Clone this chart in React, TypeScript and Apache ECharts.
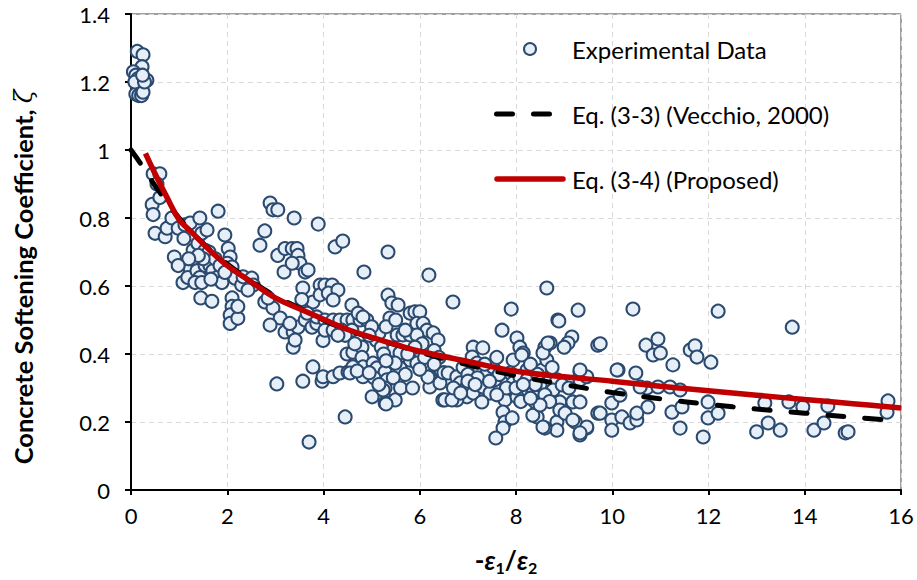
import React, { useEffect, useRef } from "react";
import * as echarts from "echarts";

// ---------- data ----------
const xTicks = [0, 2, 4, 6, 8, 10, 12, 14, 16];
const yTicks = [0, 0.2, 0.4, 0.6, 0.8, 1, 1.2, 1.4];

const legendNames = ["Experimental Data", "Eq. (3-3) (Vecchio, 2000)", "Eq. (3-4) (Proposed)"];

const expNearZero: number[][] = [
  [0.13, 1.29], [0.25, 1.28], [0.23, 1.245], [0.33, 1.205], [0.05, 1.23], [0.1, 1.22], [0.15, 1.21],
  [0.2, 1.2], [0.12, 1.195], [0.18, 1.19], [0.22, 1.18], [0.14, 1.175], [0.2, 1.17], [0.1, 1.165],
  [0.16, 1.16], [0.22, 1.16], [0.25, 1.17], [0.08, 1.2], [0.28, 1.2], [0.24, 1.22],
];

const expGroupA: number[][] = [
  [0.46, 0.93], [0.6, 0.93], [0.54, 0.9], [0.44, 0.84], [0.46, 0.81], [0.6, 0.86], [0.5, 0.755], [0.71, 0.745],
  [0.75, 0.77], [0.85, 0.8], [0.9, 0.685], [0.98, 0.77], [1.12, 0.78], [1.23, 0.785], [1.1, 0.74], [1.43, 0.8],
  [1.81, 0.82], [1.08, 0.61], [1.23, 0.65], [1.18, 0.625], [1.29, 0.705], [1.33, 0.675], [1.37, 0.645],
  [1.39, 0.725], [1.47, 0.755], [1.58, 0.765], [1.54, 0.705], [1.58, 0.685], [1.54, 0.66], [1.43, 0.625],
  [1.33, 0.61], [1.47, 0.61], [1.64, 0.66], [1.7, 0.645], [1.79, 0.625], [1.89, 0.61], [1.45, 0.565],
  [1.68, 0.555], [1.95, 0.75], [2.02, 0.71], [2.06, 0.685], [2.0, 0.667], [2.1, 0.656], [2.16, 0.623],
  [2.3, 0.603], [2.1, 0.565], [2.1, 0.54], [2.06, 0.515], [2.06, 0.49], [2.22, 0.505], [2.22, 0.54],
  [2.33, 0.627], [2.51, 0.623], [2.54, 0.603], [2.43, 0.588], [1.62, 0.7], [1.75, 0.68], [1.85, 0.66],
  [1.5, 0.68], [1.95, 0.64], [1.66, 0.62], [1.4, 0.69], [1.2, 0.68], [0.98, 0.66],
];

const expGroupB: number[][] = [
  [2.89, 0.844], [2.95, 0.824], [3.05, 0.824], [3.39, 0.8], [3.89, 0.782], [2.78, 0.762], [2.68, 0.72],
  [3.05, 0.69], [3.2, 0.71], [3.35, 0.71], [3.45, 0.71], [3.47, 0.69], [3.51, 0.667], [3.62, 0.641],
  [3.68, 0.647], [3.18, 0.641], [3.35, 0.667], [3.57, 0.594], [3.93, 0.603], [2.78, 0.553], [2.95, 0.535],
  [3.1, 0.506], [2.89, 0.485], [3.2, 0.465], [3.37, 0.465], [3.47, 0.479], [3.62, 0.5], [3.76, 0.479],
  [3.86, 0.49], [3.86, 0.509], [3.03, 0.312], [3.57, 0.32], [3.97, 0.32], [3.78, 0.362], [3.37, 0.42],
  [3.7, 0.141], [2.85, 0.565], [3.41, 0.441], [3.78, 0.553], [3.93, 0.574], [3.55, 0.56], [3.66, 0.52],
  [3.3, 0.49], [3.99, 0.44], [3.99, 0.333],
];

const expGroupC: number[][] = [
  [4.24, 0.715], [4.4, 0.732], [5.34, 0.7], [4.84, 0.641], [6.19, 0.632], [6.69, 0.553], [4.03, 0.603],
  [4.18, 0.603], [4.1, 0.579], [4.3, 0.588], [4.2, 0.559], [4.03, 0.5], [4.2, 0.5], [4.34, 0.5], [4.49, 0.5],
  [4.61, 0.5], [4.76, 0.5], [4.9, 0.5], [4.03, 0.47], [4.2, 0.47], [4.38, 0.47], [4.59, 0.47], [4.59, 0.544],
  [4.72, 0.52], [4.82, 0.509], [4.49, 0.4], [4.61, 0.405], [4.8, 0.42], [4.8, 0.39], [4.82, 0.362],
  [4.82, 0.333], [5.03, 0.373], [5.11, 0.359], [5.28, 0.347], [5.32, 0.324], [5.28, 0.3], [5.24, 0.279],
  [5.49, 0.265], [5.28, 0.256], [5.01, 0.274], [4.45, 0.215], [4.2, 0.333], [4.34, 0.344], [4.51, 0.347],
  [4.61, 0.362], [5.34, 0.573], [5.42, 0.55], [5.55, 0.544], [5.38, 0.506], [5.8, 0.52], [5.9, 0.524],
  [6.0, 0.524], [5.94, 0.49], [6.07, 0.49], [6.15, 0.47], [6.28, 0.462], [6.38, 0.441], [5.53, 0.456],
  [5.65, 0.456], [5.8, 0.456], [5.94, 0.456], [5.44, 0.412], [5.59, 0.403], [5.8, 0.382], [5.94, 0.373],
  [5.59, 0.359], [5.49, 0.373], [6.21, 0.362], [6.21, 0.333], [6.21, 0.303], [6.42, 0.315], [6.48, 0.265],
  [6.17, 0.332], [5.3, 0.253], [4.55, 0.344], [4.7, 0.35], [5.24, 0.294], [5.1, 0.44], [5.2, 0.42],
  [5.25, 0.4], [5.3, 0.38], [5.15, 0.46], [5.0, 0.48], [5.05, 0.33], [5.15, 0.31], [4.95, 0.345],
  [4.45, 0.455], [4.3, 0.455], [4.65, 0.43], [4.95, 0.455], [5.3, 0.48], [5.5, 0.5], [5.7, 0.47],
  [6.05, 0.43], [6.3, 0.41], [5.9, 0.42], [5.75, 0.4], [6.1, 0.39], [6.4, 0.39], [6.0, 0.355], [5.7, 0.34],
  [5.45, 0.33], [5.6, 0.3], [5.85, 0.3], [6.3, 0.37], [6.5, 0.345],
];

const expGroupD: number[][] = [
  [6.59, 0.344], [6.77, 0.333], [6.84, 0.315], [6.98, 0.303], [6.98, 0.274], [7.11, 0.285], [7.11, 0.42],
  [7.31, 0.418], [7.09, 0.391], [7.19, 0.373], [7.25, 0.353], [7.4, 0.344], [7.52, 0.362], [7.56, 0.324],
  [7.31, 0.303], [7.46, 0.285], [7.29, 0.259], [7.71, 0.47], [7.9, 0.532], [7.77, 0.265], [7.73, 0.229],
  [7.77, 0.2], [7.73, 0.182], [7.58, 0.153], [8.02, 0.447], [8.08, 0.42], [8.15, 0.403], [7.94, 0.382],
  [7.88, 0.344], [7.94, 0.315], [8.08, 0.333], [8.23, 0.353], [8.23, 0.324], [8.23, 0.294], [8.02, 0.274],
  [8.35, 0.285], [8.5, 0.309], [8.54, 0.353], [8.64, 0.382], [8.6, 0.42], [8.71, 0.432], [8.64, 0.594],
  [8.56, 0.403], [8.71, 0.333], [8.44, 0.215], [8.4, 0.259], [8.87, 0.5], [8.85, 0.324], [8.91, 0.259],
  [8.85, 0.2], [8.85, 0.176], [8.6, 0.182], [8.77, 0.294], [6.52, 0.265], [6.77, 0.265], [6.67, 0.265],
  [7.92, 0.212], [8.35, 0.22], [8.56, 0.185], [8.91, 0.235], [8.12, 0.397], [8.66, 0.432], [8.89, 0.497],
  [8.96, 0.309], [6.9, 0.36], [7.0, 0.34], [7.2, 0.33], [7.35, 0.37], [7.6, 0.39], [7.65, 0.34], [7.8, 0.3],
  [8.0, 0.3], [8.1, 0.26], [8.3, 0.37], [8.45, 0.34], [8.4, 0.31], [8.6, 0.28], [8.7, 0.26], [8.75, 0.36],
  [6.7, 0.3], [6.85, 0.285], [7.0, 0.32], [7.15, 0.31], [7.45, 0.32], [7.6, 0.28], [8.5, 0.25], [8.15, 0.31],
  [8.3, 0.27],
];

const expGroupE: number[][] = [
  [9.16, 0.45], [9.08, 0.432], [9.29, 0.529], [9.18, 0.259], [9.02, 0.226], [9.23, 0.2], [9.47, 0.182],
  [9.33, 0.162], [9.33, 0.347], [9.7, 0.426], [9.7, 0.226], [10.43, 0.532], [12.2, 0.526], [10.7, 0.426],
  [10.95, 0.444], [10.85, 0.397], [11.0, 0.403], [11.62, 0.412], [11.72, 0.424], [11.76, 0.391],
  [12.05, 0.376], [11.26, 0.368], [10.12, 0.353], [10.49, 0.344], [9.33, 0.324], [9.47, 0.333],
  [9.33, 0.259], [9.99, 0.256], [10.16, 0.279], [10.72, 0.3], [10.95, 0.303], [11.2, 0.303], [11.41, 0.294],
  [10.74, 0.244], [11.24, 0.229], [11.45, 0.244], [11.99, 0.259], [11.99, 0.212], [12.2, 0.226],
  [11.89, 0.156], [11.41, 0.182], [9.75, 0.226], [9.99, 0.206], [9.99, 0.176], [10.2, 0.215], [10.37, 0.197],
  [10.51, 0.206], [10.51, 0.226], [9.47, 0.185], [9.33, 0.168], [13.0, 0.171], [13.24, 0.197], [13.17, 0.256],
  [13.49, 0.176], [13.74, 0.479], [10.58, 0.303], [13.67, 0.259], [13.96, 0.244], [14.48, 0.247],
  [14.19, 0.176], [14.4, 0.197], [14.84, 0.168], [14.9, 0.171], [15.73, 0.262], [15.71, 0.229],
  [9.75, 0.43], [9.18, 0.206], [10.1, 0.353], [9.33, 0.353], [9.0, 0.42], [9.1, 0.3],
];

// Eq. (3-3) (Vecchio, 2000)
const vecchioX = [0, 0.2, 0.5, 1, 1.5, 2, 2.5, 3, 3.5, 4, 4.5, 5, 5.5, 6, 7, 8, 9, 10, 11, 12, 13, 14, 15, 16];
const vecchioY = [1.0, 0.96, 0.895, 0.8, 0.725, 0.665, 0.615, 0.57, 0.535, 0.5, 0.47, 0.448, 0.427, 0.405,
  0.368, 0.336, 0.31, 0.287, 0.268, 0.252, 0.238, 0.226, 0.214, 0.203];

// Eq. (3-4) (Proposed)
const proposedX = [0.3, 0.5, 0.75, 1, 1.25, 1.6, 2, 2.5, 3, 3.5, 4, 4.5, 5, 5.5, 6, 7, 8, 9, 10, 11, 12, 13, 14, 15, 16];
const proposedY = [0.99, 0.93, 0.86, 0.795, 0.76, 0.71, 0.66, 0.612, 0.565, 0.533, 0.502, 0.472, 0.449,
  0.428, 0.408, 0.378, 0.349, 0.333, 0.32, 0.305, 0.292, 0.279, 0.266, 0.254, 0.241];

const FONT = "Lato, 'Open Sans', sans-serif";
const MARKER_FILL = "#e6eef8";
const MARKER_STROKE = "#2b4a6f";
const RED = "#c00000";
const DASH = [16, 21];

export default function App() {
  const ref = useRef<HTMLDivElement>(null);

  useEffect(() => {
    document.body.style.margin = "0";
    const chart = echarts.init(ref.current!, undefined, { renderer: "svg" });
    const expData = [...expNearZero, ...expGroupA, ...expGroupB, ...expGroupC, ...expGroupD, ...expGroupE];
    const vecchio = vecchioX.map((x, i) => [x, vecchioY[i]]);
    const proposed = proposedX.map((x, i) => [x, proposedY[i]]);

    const legendText = (y: number, text: string) => ({
      type: "text",
      x: 572, y,
      z: 100,
      style: { text, fontFamily: FONT, fontSize: 24, fill: "#000", verticalAlign: "middle", align: "left" },
    });

    chart.setOption({
      animation: false,
      backgroundColor: "#fff",
      grid: {
        left: 131, right: 16, top: 14, bottom: 90,
        show: true, borderColor: "#404040", borderWidth: 1, backgroundColor: "transparent",
      },
      xAxis: {
        type: "value",
        min: xTicks[0], max: xTicks[xTicks.length - 1], interval: 2,
        axisLine: { show: true, onZero: false, lineStyle: { color: "#000", width: 2 } },
        axisTick: { show: true, inside: false, length: 5, lineStyle: { color: "#000", width: 2 } },
        axisLabel: { fontFamily: FONT, fontSize: 22, color: "#000", margin: 14 },
        splitLine: { show: true, lineStyle: { color: "#d9d9d9", width: 1, type: [5, 4] } },
      },
      yAxis: {
        type: "value",
        min: yTicks[0], max: yTicks[yTicks.length - 1], interval: 0.2,
        axisLine: { show: true, onZero: false, lineStyle: { color: "#000", width: 2 } },
        axisTick: { show: true, inside: false, length: 6, lineStyle: { color: "#000", width: 2 } },
        axisLabel: { fontFamily: FONT, fontSize: 22, color: "#000", margin: 21 },
        splitLine: { show: true, lineStyle: { color: "#d9d9d9", width: 1, type: [5, 4] } },
      },
      graphic: [
        {
          type: "text",
          x: 23, y: 277,
          rotation: Math.PI / 2,
          style: {
            text: "{t|Concrete Softening Coefficient, }{z|ζ}",
            align: "center",
            verticalAlign: "middle",
            rich: {
              t: { fontFamily: FONT, fontWeight: "bold", fontSize: 25.5, fill: "#000" },
              z: { fontFamily: "'DejaVu Serif', serif", fontStyle: "italic", fontSize: 25, fill: "#000" },
            },
          },
        },
        {
          type: "text",
          x: 506, y: 560,
          style: {
            text: "{n|-}{e|ε}{s|1}{n|/}{e|ε}{s|2}",
            align: "center",
            verticalAlign: "middle",
            rich: {
              n: { fontFamily: FONT, fontWeight: "bold", fontSize: 26, fill: "#000" },
              e: { fontFamily: FONT, fontWeight: "bold", fontStyle: "italic", fontSize: 26, fill: "#000" },
              s: { fontFamily: FONT, fontWeight: "bold", fontSize: 16, fill: "#000", verticalAlign: "bottom", lineHeight: 30 },
            },
          },
        },
        // legend (drawn by hand so its marks match the reference)
        {
          type: "circle",
          z: 100,
          shape: { cx: 530, cy: 49, r: 6 },
          style: { fill: MARKER_FILL, stroke: MARKER_STROKE, lineWidth: 2 },
        },
        legendText(49, legendNames[0]),
        {
          type: "line",
          z: 100,
          shape: { x1: 496.5, y1: 114, x2: 549.5, y2: 114 },
          style: { stroke: "#000", lineWidth: 5, lineDash: DASH, lineCap: "round" },
        },
        legendText(114, legendNames[1]),
        {
          type: "line",
          z: 100,
          shape: { x1: 497, y1: 179, x2: 563, y2: 179 },
          style: { stroke: RED, lineWidth: 5.5, lineCap: "round" },
        },
        legendText(179, legendNames[2]),
      ],
      series: [
        {
          name: legendNames[0],
          type: "scatter",
          data: expData,
          symbol: "circle",
          symbolSize: 13,
          itemStyle: { color: MARKER_FILL, borderColor: MARKER_STROKE, borderWidth: 2, opacity: 1 },
          z: 2,
        },
        {
          name: legendNames[1],
          type: "line",
          data: vecchio,
          smooth: 0.4,
          symbol: "none",
          lineStyle: { color: "#000", width: 5, type: DASH, cap: "round" },
          z: 3,
        },
        {
          name: legendNames[2],
          type: "line",
          data: proposed,
          smooth: 0.4,
          symbol: "none",
          lineStyle: { color: RED, width: 5.5 },
          z: 4,
        },
      ],
    });
    return () => chart.dispose();
  }, []);

  return <div ref={ref} style={{ width: 917, height: 580 }} />;
}
